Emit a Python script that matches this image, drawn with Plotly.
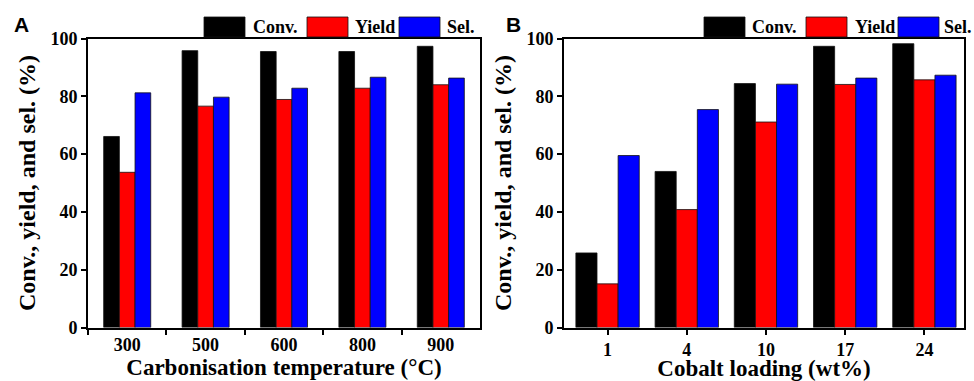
import plotly.graph_objects as go

# Panel A: carbonisation temperature series
temps = ["300", "500", "600", "800", "900"]
conv_a = [66.1, 95.8, 95.5, 95.5, 97.3]
yield_a = [53.7, 76.6, 78.9, 82.8, 84.0]
sel_a = [81.2, 79.7, 82.8, 86.6, 86.3]

# Panel B: cobalt loading series
loadings = ["1", "4", "10", "17", "24"]
conv_b = [25.8, 54.0, 84.4, 97.3, 98.2]
yield_b = [15.1, 40.8, 71.1, 84.1, 85.7]
sel_b = [59.5, 75.4, 84.2, 86.3, 87.3]

series_names = ["Conv.", "Yield", "Sel."]
series_colors = ["#000000", "#ff0000", "#0000ff"]
y_ticks = [0, 20, 40, 60, 80, 100]

W, H = 974, 381
SERIF = "'Liberation Serif', 'Times New Roman', serif"
SANS = "'Liberation Sans', Arial, sans-serif"


def px(x):
    return x / W


def py(y):
    return 1 - y / H


fig = go.Figure()

# bar widths / offsets (category units) per panel
a_width, a_offsets = 0.2, [-0.3, -0.1, 0.1]
b_width, b_offsets = 0.2667, [-0.4, -0.1333, 0.1333]

for name, color, vals, off in zip(series_names, series_colors,
                                  [conv_a, yield_a, sel_a], a_offsets):
    fig.add_trace(go.Bar(x=temps, y=vals, name=name, marker_color=color,
                         marker_line=dict(color="#111", width=0.8),
                         width=a_width, offset=off,
                         xaxis="x", yaxis="y", showlegend=False))

for name, color, vals, off in zip(series_names, series_colors,
                                  [conv_b, yield_b, sel_b], b_offsets):
    fig.add_trace(go.Bar(x=loadings, y=vals, name=name, marker_color=color,
                         marker_line=dict(color="#111", width=0.8),
                         width=b_width, offset=off,
                         xaxis="x2", yaxis="y2", showlegend=False))

tick_font = dict(family=SERIF, size=18, color="black", weight="bold")
title_font = dict(family=SERIF, size=23, color="black", weight="bold")

common_y = dict(range=[0, 100], tickvals=y_ticks, ticks="outside", ticklen=5,
                tickwidth=2, tickcolor="black", showline=True, linewidth=2,
                linecolor="black", mirror=True, showgrid=False, zeroline=False,
                tickfont=tick_font, automargin=False,
                title=dict(text="Conv., yield, and sel. (%)",
                           font=dict(title_font, size=24), standoff=8))

y_dom = [py(327.5), py(38.5)]

fig.update_layout(
    width=W, height=H, autosize=False,
    margin=dict(l=0, r=0, t=0, b=0),
    paper_bgcolor="white", plot_bgcolor="white",
    barmode="group",
    showlegend=False,
    xaxis=dict(domain=[px(88), px(480)], anchor="y", type="category",
               range=[-0.5, 4.5], tickson="boundaries", ticks="outside",
               ticklen=5, tickwidth=2, tickcolor="black", showline=True,
               linewidth=2, linecolor="black", mirror=True, showgrid=False,
               tickfont=tick_font, automargin=False,
               title=dict(text="Carbonisation temperature (°C)",
                          font=title_font, standoff=4)),
    yaxis=dict(domain=y_dom, anchor="x", **common_y),
    xaxis2=dict(domain=[px(564), px(964)], anchor="y2", type="category",
                range=[-0.55, 4.5], ticks="outside", ticklen=5, tickwidth=2,
                tickcolor="black", showline=True, linewidth=2,
                linecolor="black", mirror=True, showgrid=False,
                tickfont=tick_font, automargin=False,
                title=dict(text="Cobalt loading (wt%)", font=title_font,
                           standoff=4)),
    yaxis2=dict(domain=y_dom, anchor="x2", **common_y),
)

# Custom legend blocks above each panel
legend_layouts = [
    # (swatch left edges, text left edges)
    ([204, 307, 399], [251, 353, 445]),
    ([704, 806, 898], [750, 853, 942]),
]
shapes = []
annotations = []
for swatch_x, text_x in legend_layouts:
    for name, color, sx, tx in zip(series_names, series_colors, swatch_x, text_x):
        shapes.append(dict(type="rect", xref="paper", yref="paper",
                           x0=px(sx), x1=px(sx + 41), y0=py(37), y1=py(17),
                           fillcolor=color, line=dict(color="#111", width=0.8)))
        annotations.append(dict(text=name, xref="paper", yref="paper",
                                x=px(tx), y=py(27), xanchor="left",
                                yanchor="middle", showarrow=False,
                                font=dict(family=SERIF, size=18, color="black",
                                          weight="bold")))

for label, lx in [("A", 12), ("B", 504)]:
    annotations.append(dict(text=label, xref="paper", yref="paper",
                            x=px(lx), y=py(24), xanchor="left",
                            yanchor="middle", showarrow=False,
                            font=dict(family=SANS, size=21,
                                      color="black", weight="bold")))

fig.update_layout(shapes=shapes, annotations=annotations)

fig.write_html("out.html")
